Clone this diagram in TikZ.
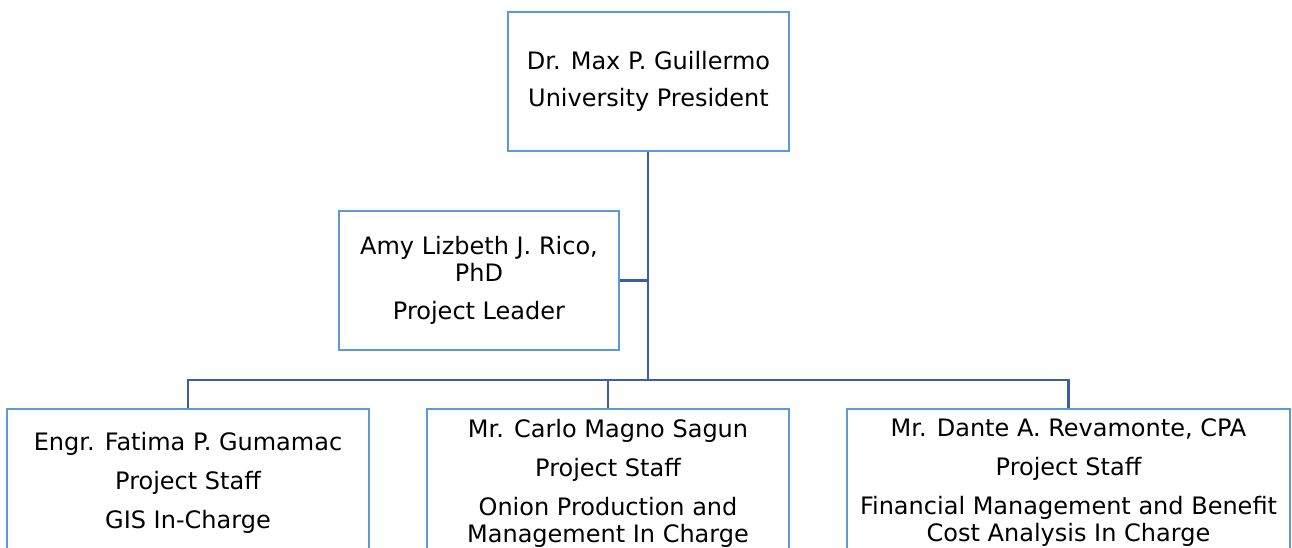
\documentclass[tikz,border=0pt]{standalone}
\usepackage{fontspec}
\setmainfont{DejaVu Sans}
\definecolor{boxblue}{RGB}{91,155,213}
\definecolor{lineblue}{RGB}{58,93,168}
\tikzset{
  orgbox/.style={draw=boxblue, line width=1.7pt, fill=white, align=center,
    inner sep=2pt, font=\fontsize{18}{20.25}\selectfont},
  orgline/.style={draw=lineblue, line width=2pt}
}
\begin{document}
\begin{tikzpicture}[x=0.75pt, y=-0.75pt]
      \useasboundingbox (0,0) rectangle (1292,547);
      \clip (0,0) rectangle (1292,547);
      \draw
        (648.5,81.5) node[orgbox, minimum width=210.75pt, minimum height=104.25pt] (pres)
          {Dr. Max P. Guillermo\\[8pt]University President}
        (479,280.5) node[orgbox, minimum width=210pt, minimum height=104.25pt] (lead)
          {Amy Lizbeth J. Rico,\\PhD\\[8pt]Project Leader}
        (188,483) node[orgbox, minimum width=271.5pt, minimum height=111pt] (gis)
          {Engr. Fatima P. Gumamac\\[9pt]Project Staff\\[9pt]GIS In-Charge}
        (608,483) node[orgbox, minimum width=271.5pt, minimum height=111pt] (onion)
          {Mr. Carlo Magno Sagun\\[9pt]Project Staff\\[9pt]Onion Production and\\Management In Charge}
        (1068.5,483) node[orgbox, minimum width=332.25pt, minimum height=111pt] (fin)
          {Mr. Dante A. Revamonte, CPA\\[9pt]Project Staff\\[9pt]Financial Management and Benefit\\Cost Analysis In Charge};
      \coordinate (bus) at (648,380);
      \begin{scope}[orgline]
        \draw (pres.south -| bus) to (bus);
        \draw (lead.east) to (lead.east -| bus);
        \draw (gis.north) |- (bus) -| (fin.north);
        \draw (onion.north) to (onion.north |- bus);
      \end{scope}
    \end{tikzpicture}
\end{document}
